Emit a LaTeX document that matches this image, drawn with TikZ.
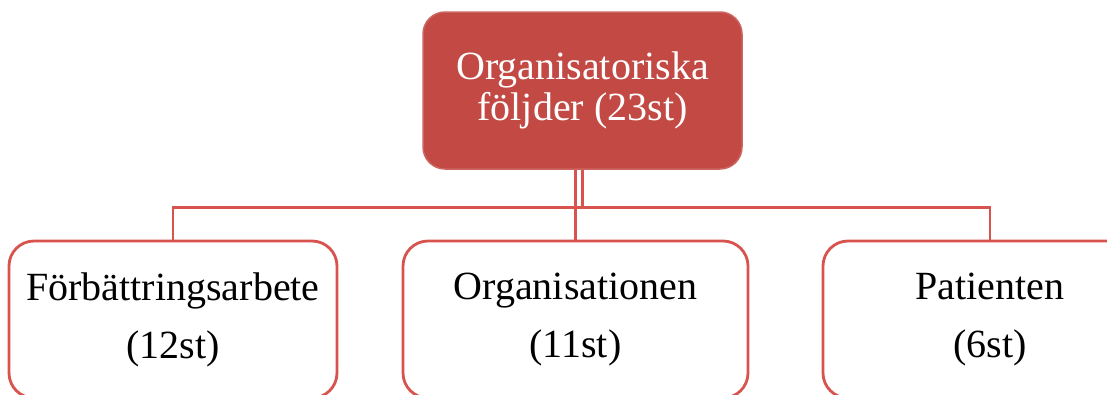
\documentclass[tikz,border=0pt]{standalone}
\usepackage{fontspec}
\setmainfont{Liberation Serif}
\definecolor{accred}{HTML}{C34A44}
\definecolor{linered}{HTML}{D9534E}
\tikzset{top/.style = {rectangle, rounded corners=22pt, fill=accred, draw=accred!85!white, line width=1.5pt,
                       text=white, align=center, font=\fontsize{40}{41.5}\selectfont,
                       minimum height=157pt, inner sep=0pt},
         sub/.style = {rectangle, rounded corners=25pt, fill=white, draw=linered, line width=2.8pt,
                       text=black, align=center, font=\fontsize{40}{58}\selectfont,
                       minimum height=157pt, inner sep=0pt},
         con/.style = {draw=linered, line width=2.8pt}}

\begin{document}
\begin{tikzpicture}[x=1pt, y=-1pt]
    \useasboundingbox (0,0) rectangle (1107,394);
    \node[top, minimum width=319pt] (org) at (582.5,90.5) {Organisatoriska\\följder (23st)};
    \node[sub, minimum width=328pt] (forb) at (173,319.5) {Förbättringsarbete\\(12st)};
    \node[sub, minimum width=345pt] (orgn) at (575.5,319.5) {Organisationen\\(11st)};
    \node[sub, minimum width=334pt] (pat) at (990,319.5) {Patienten\\(6st)};
    \draw[con] (org.south) -- ++(0,38) -| (forb.north);
    \draw[con] (org.south) -- ++(0,38) -| (pat.north);
    \draw[con] (org.south -| orgn.north) -- (orgn.north);
\end{tikzpicture}
\end{document}
